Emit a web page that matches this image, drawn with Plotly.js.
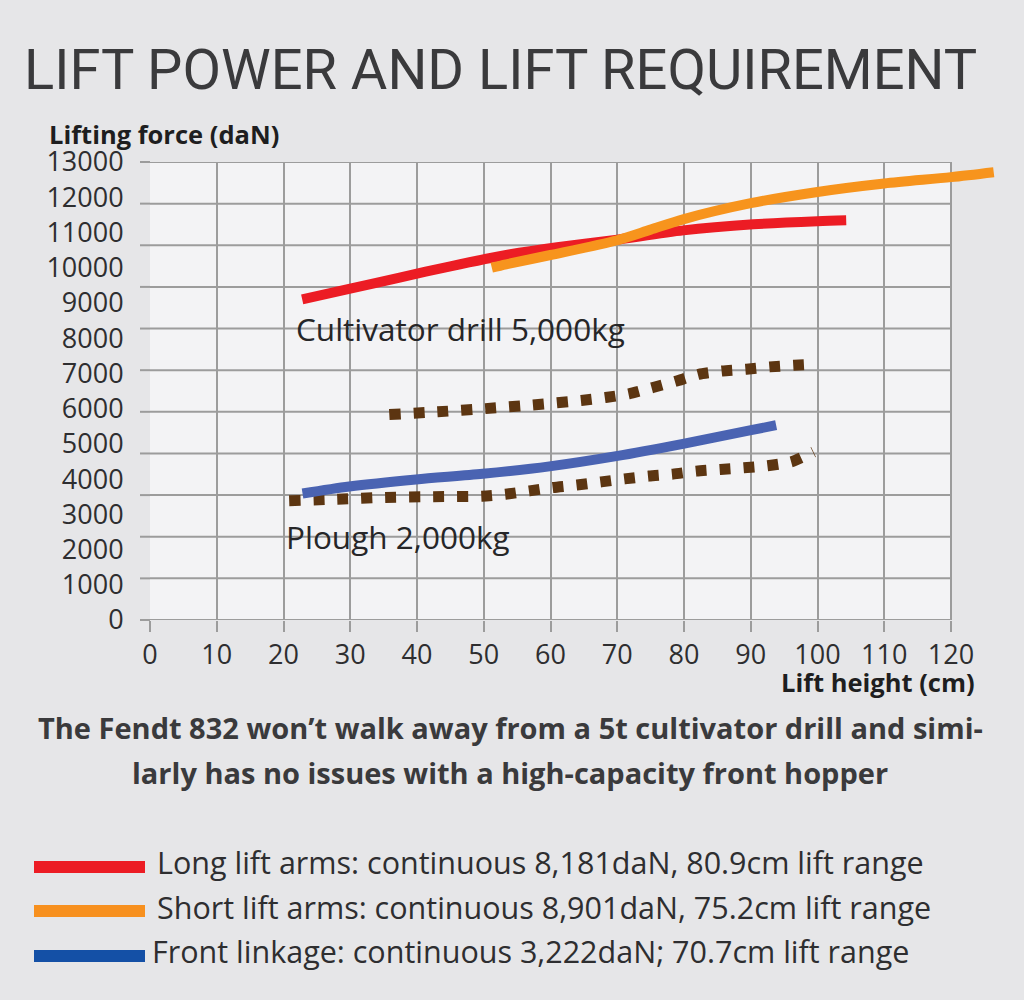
<!DOCTYPE html>
<html>
<head>
<meta charset="utf-8">
<script src="https://cdn.plot.ly/plotly-3.0.1.min.js"></script>
<style>
  html, body { margin: 0; padding: 0; background: #e6e6e8; }
  #chart { width: 1024px; height: 1000px; }
</style>
</head>
<body>
<div id="chart"></div>
<script>
// lift curves (x = lift height in cm, y = lifting force in daN)
var longX  = [22.8, 30, 37.4, 45, 54, 61, 69.4, 79.9, 90.4, 100, 104.3];
var longY  = [9100, 9405, 9720, 10040, 10380, 10580, 10780, 11060, 11230, 11320, 11345];

var shortX = [51.2, 53.35, 60, 70, 75, 80, 90, 100, 110, 120, 126.4];
var shortY = [10000, 10096, 10360, 10780, 11080, 11380, 11830, 12150, 12390, 12570, 12710];

var frontX = [22.85, 29.85, 39.85, 49.85, 59.85, 69.85, 79.85, 89.85, 93.8];
var frontY = [3590, 3790, 3990, 4150, 4360, 4650, 5000, 5380, 5530];

// requirement curves (dotted)
var drillX = [35.85, 43.1, 50.25, 57.35, 64.6, 68.25, 71.75, 75.35, 78.75, 82.2, 85.75, 89.35, 92.85, 96.5, 99.6];
var drillY = [5830, 5910, 6000, 6105, 6230, 6315, 6420, 6600, 6775, 6975, 7070, 7120, 7185, 7230, 7260];

var ploughX = [20.85, 28.1, 35.25, 42.45, 49.75, 53.25, 56.85, 60.35, 63.95, 67.6, 71.1, 74.75, 78.35, 81.85, 85.45, 88.95, 92.5, 96.1, 99.4];
var ploughY = [3385, 3430, 3480, 3500, 3515, 3570, 3665, 3760, 3830, 3920, 4005, 4085, 4140, 4225, 4275, 4320, 4380, 4490, 4770];

// axis labels; the printed grid has 11 rows that do not line up with the 14 labels
var xTicks = [0, 10, 20, 30, 40, 50, 60, 70, 80, 90, 100, 110, 120];
var yTicks = [0, 1000, 2000, 3000, 4000, 5000, 6000, 7000, 8000, 9000, 10000, 11000, 12000, 13000];
var yGridRows = 11;

var captionLines = [
  'The Fendt 832 won\u2019t walk away from a 5t cultivator drill and simi-',
  'larly has no issues with a high-capacity front hopper'
];
var legendNames = [
  'Long lift arms: continuous 8,181daN, 80.9cm lift range',
  'Short lift arms: continuous 8,901daN, 75.2cm lift range',
  'Front linkage: continuous 3,222daN; 70.7cm lift range'
];
var legendColors = ['#ec1c24', '#f7901e', '#1450a6'];

var xMax = xTicks[xTicks.length - 1];
var yMax = yTicks[yTicks.length - 1];

var mL = 150, mR = 20, mT = 162, mB = 380;
var plotW = 1024 - mL - mR, plotH = 1000 - mT - mB;
var gridW = 801;                  // width of the 0-120 grid; the orange curve runs past it
var gridFrac = gridW / plotW;

function px(x) { return (x - mL) / plotW; }
function py(y) { return (1000 - mB - y) / plotH; }

var gridColor = '#9c9c9c';
var txt = '#2e2e30';
var brown = '#5c3511';

var traces = [
  {x: drillX, y: drillY, mode: 'lines',
   line: {color: brown, width: 11, dash: '11px,13px', shape: 'spline', smoothing: 0.6}},
  {x: ploughX, y: ploughY, mode: 'lines',
   line: {color: brown, width: 11, dash: '11px,13px', shape: 'spline', smoothing: 0.6}},
  {x: longX, y: longY, mode: 'lines',
   line: {color: '#ec1c24', width: 10, shape: 'spline', smoothing: 0.8}},
  {x: frontX, y: frontY, mode: 'lines',
   line: {color: '#4a63b2', width: 10, shape: 'spline', smoothing: 0.8}},
  {x: shortX, y: shortY, mode: 'lines',
   line: {color: '#f7941d', width: 10, shape: 'spline', smoothing: 0.8}}
];

var annotations = [
  {xref: 'paper', yref: 'paper', x: px(22), y: py(70), xanchor: 'left', yanchor: 'middle',
   text: 'LIFT POWER AND LIFT REQUIREMENT', showarrow: false,
   font: {family: 'Roboto', size: 56, color: '#3a3a3c'}},
  {xref: 'paper', yref: 'paper', x: px(47), y: py(134), xanchor: 'left', yanchor: 'middle',
   text: '<b>Lifting force (daN)</b>', showarrow: false,
   font: {family: 'Open Sans', size: 25.5, color: '#1e1e20'}},
  {xref: 'paper', yref: 'paper', x: px(977), y: py(682), xanchor: 'right', yanchor: 'middle',
   text: '<b>Lift height (cm)</b>', showarrow: false,
   font: {family: 'Open Sans', size: 25.5, color: '#1e1e20'}},
  {xref: 'x', yref: 'y', x: 21.6, y: 8270, xanchor: 'left', yanchor: 'middle',
   text: 'Cultivator drill 5,000kg', showarrow: false,
   font: {family: 'Open Sans', size: 31.5, color: '#262628'}},
  {xref: 'x', yref: 'y', x: 20, y: 2380, xanchor: 'left', yanchor: 'middle',
   text: 'Plough 2,000kg', showarrow: false,
   font: {family: 'Open Sans', size: 31.5, color: '#262628'}}
];

var captionY = [727, 772];
captionLines.forEach(function(line, i) {
  annotations.push({xref: 'paper', yref: 'paper', x: px(510), y: py(captionY[i]),
    xanchor: 'center', yanchor: 'middle', text: '<b>' + line + '</b>', showarrow: false,
    font: {family: 'Open Sans', size: 29, color: '#3a3a3c'}});
});

var shapes = [
  // lighter plot panel, inside the 0-120 grid only
  {type: 'rect', xref: 'x', yref: 'y', x0: 0, x1: xMax, y0: 0, y1: yMax,
   fillcolor: '#f3f3f5', line: {width: 0}, layer: 'below'}
];

// horizontal grid rows (over the panel, under the curves) plus the short tick left of each
for (var k = 0; k <= yGridRows; k++) {
  var v = k * yMax / yGridRows;
  shapes.push({type: 'line', xref: 'x', yref: 'y', x0: 0, x1: xMax, y0: v, y1: v,
    line: {color: gridColor, width: 2}, layer: 'between'});
  shapes.push({type: 'line', xref: 'paper', yref: 'paper', x0: -10 / plotW, x1: 0,
    y0: v / yMax, y1: v / yMax, line: {color: gridColor, width: 2}, layer: 'above'});
}

var legendY = [862, 907, 951];
var legendLineY = [867, 911, 956];
var legendX = [155, 155, 150];
legendNames.forEach(function(name, i) {
  shapes.push({type: 'line', xref: 'paper', yref: 'paper',
    x0: px(34), x1: px(145), y0: py(legendLineY[i]), y1: py(legendLineY[i]),
    line: {color: legendColors[i], width: 12}});
  annotations.push({xref: 'paper', yref: 'paper', x: px(legendX[i]), y: py(legendY[i]),
    xanchor: 'left', yanchor: 'middle', text: name, showarrow: false,
    font: {family: 'Open Sans', size: 30.5, color: '#2e2e30'}});
});

var layout = {
  width: 1024,
  height: 1000,
  margin: {l: mL, r: mR, t: mT, b: mB},
  paper_bgcolor: '#e6e6e8',
  plot_bgcolor: 'rgba(0,0,0,0)',
  showlegend: false,
  xaxis: {
    range: [0, xMax / gridFrac], tickvals: xTicks,
    showgrid: true, gridcolor: gridColor, gridwidth: 2, zeroline: false, showline: false,
    ticks: 'outside', ticklen: 11, tickwidth: 2, tickcolor: gridColor,
    tickfont: {family: 'Open Sans', size: 27, color: txt}
  },
  yaxis: {
    range: [0, yMax], tickvals: yTicks, ticktext: yTicks.map(String),
    showgrid: false, zeroline: false, showline: false,
    // invisible ticks only push the labels away from the panel
    ticks: 'outside', ticklen: 20, tickcolor: 'rgba(0,0,0,0)',
    tickfont: {family: 'Open Sans', size: 27, color: txt}
  },
  shapes: shapes,
  annotations: annotations
};

Plotly.newPlot('chart', traces, layout, {displayModeBar: false, staticPlot: true});
</script>
</body>
</html>
